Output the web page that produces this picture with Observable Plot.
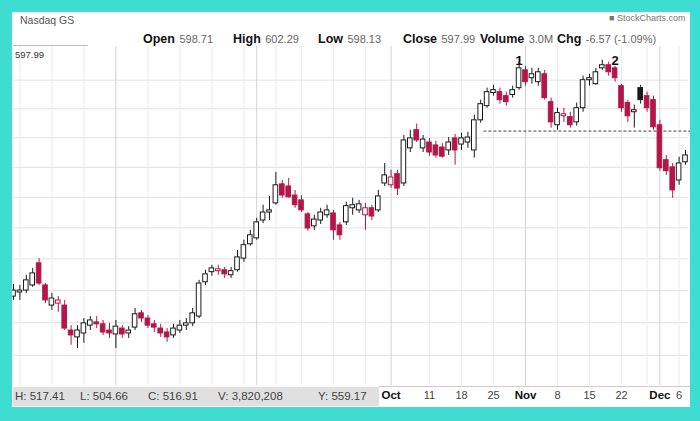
<!DOCTYPE html>
<html><head><meta charset="utf-8">
<script src="https://cdn.jsdelivr.net/npm/d3@7"></script>
<script src="https://cdn.jsdelivr.net/npm/@observablehq/plot@0.6"></script>
<style>
html,body{margin:0;padding:0;width:700px;height:421px;overflow:hidden;background:#fff;font-family:"Liberation Sans",Arial,sans-serif;}
#frame{position:absolute;left:0;top:0;width:700px;height:421px;box-sizing:border-box;border-style:solid;border-color:#3fdcd1;border-width:12px 10px 14px 12px;pointer-events:none;z-index:10;}
#chart{position:absolute;left:0;top:0;z-index:1;}
.t{position:absolute;white-space:nowrap;z-index:5;}
.lab{font-weight:bold;font-size:12.5px;color:#111;}
.val{font-size:11px;color:#666;}
</style>
</head><body>
<div id="chart"></div>
<div class="t" style="left:20px;top:14px;font-size:10.5px;color:#555;">Nasdaq GS</div>
<div class="t" style="left:609px;top:13px;font-size:9px;color:#777;">&#9632; StockCharts.com</div>
<div class="t" style="left:13px;top:45px;width:75px;height:1px;background:#bbb;"></div>
<div class="t" style="left:15px;top:49px;font-size:9.5px;color:#333;">597.99</div>
<div id="hdr"></div>
<div class="t" style="left:13px;top:387px;width:366px;height:19px;background:#e0e0e0;"></div>
<div id="info"></div>
<div class="t" style="left:379px;top:386px;width:311px;height:1px;background:#d8c8cc;"></div>
<div id="frame"></div>
<script>
// Trading days (2010)
const dates = [
"2010-07-09","2010-07-12","2010-07-13","2010-07-14","2010-07-15","2010-07-16","2010-07-19","2010-07-20","2010-07-21","2010-07-22","2010-07-23","2010-07-26","2010-07-27","2010-07-28","2010-07-29","2010-07-30",
"2010-08-02","2010-08-03","2010-08-04","2010-08-05","2010-08-06","2010-08-09","2010-08-10","2010-08-11","2010-08-12","2010-08-13","2010-08-16","2010-08-17","2010-08-18","2010-08-19","2010-08-20","2010-08-23","2010-08-24","2010-08-25","2010-08-26","2010-08-27","2010-08-30","2010-08-31",
"2010-09-01","2010-09-02","2010-09-03","2010-09-07","2010-09-08","2010-09-09","2010-09-10","2010-09-13","2010-09-14","2010-09-15","2010-09-16","2010-09-17","2010-09-20","2010-09-21","2010-09-22","2010-09-23","2010-09-24","2010-09-27","2010-09-28","2010-09-29","2010-09-30",
"2010-10-01","2010-10-04","2010-10-05","2010-10-06","2010-10-07","2010-10-08","2010-10-11","2010-10-12","2010-10-13","2010-10-14","2010-10-15","2010-10-18","2010-10-19","2010-10-20","2010-10-21","2010-10-22","2010-10-25","2010-10-26","2010-10-27","2010-10-28","2010-10-29",
"2010-11-01","2010-11-02","2010-11-03","2010-11-04","2010-11-05","2010-11-08","2010-11-09","2010-11-10","2010-11-11","2010-11-12","2010-11-15","2010-11-16","2010-11-17","2010-11-18","2010-11-19","2010-11-22","2010-11-23","2010-11-24","2010-11-26","2010-11-29","2010-11-30",
"2010-12-01","2010-12-02","2010-12-03","2010-12-06","2010-12-07"];
const open = [558.1,559.4,560.0,561.6,568.6,561.6,555.3,555.9,555.3,547.6,545.5,546.7,549.1,550.1,549.5,547.6,
546.4,548.2,546.7,548.5,552.9,551.3,549.5,548.2,547.0,546.1,547.6,549.1,549.8,551.9,562.6,565.8,566.1,566.4,564.8,566.4,570.1,574.7,
576.6,582.4,585.0,588.0,594.3,593.6,590.6,589.0,584.4,580.5,582.4,584.1,584.7,580.8,581.8,586.4,585.7,584.1,586.4,585.7,594.6,
594.0,597.7,594.6,606.4,612.6,606.4,608.4,607.4,606.7,605.7,609.8,607.7,608.4,605.7,616.0,620.9,625.5,625.8,624.4,624.8,627.2,
633.5,630.7,629.3,632.1,622.3,614.3,617.4,617.1,615.3,620.2,630.0,628.6,634.2,635.3,634.2,627.9,622.0,618.8,627.2,624.4,623.0,
614.3,602.4,600.0,595.6,601.7];
const high = [561.9,561.6,564.8,567.0,570.1,562.2,559.1,558.1,556.9,549.1,549.1,551.3,551.9,551.9,550.7,549.8,
550.7,549.1,548.8,554.4,553.8,552.2,550.7,549.5,548.2,549.5,550.7,551.3,554.4,563.2,566.4,568.0,568.0,567.3,567.3,572.7,576.0,579.2,
583.1,587.4,590.3,598.3,595.6,596.3,592.3,590.6,585.0,584.1,586.4,587.4,585.7,581.8,588.4,589.7,589.0,588.0,587.4,592.3,601.3,
599.0,599.0,610.8,612.6,614.7,610.8,609.8,608.8,608.1,610.1,611.2,611.6,611.9,617.8,623.0,627.2,628.2,627.2,625.8,627.9,636.4,
634.9,634.2,634.2,633.5,623.7,620.2,620.2,618.8,622.0,631.4,632.1,634.2,637.1,636.4,634.9,628.6,623.0,621.3,628.2,625.8,624.4,
616.0,604.0,601.3,603.4,605.7];
const low = [556.9,556.9,559.1,561.0,561.6,555.9,553.8,553.2,547.6,543.1,542.1,543.7,547.6,548.2,546.1,545.2,
542.1,545.2,545.2,547.6,550.1,548.2,547.0,545.5,544.0,545.2,546.7,547.6,548.8,551.3,561.6,564.5,564.8,563.8,563.8,565.8,568.9,574.1,
576.0,581.4,582.4,587.4,589.7,589.7,586.4,585.0,578.9,579.2,581.1,583.1,576.0,576.0,580.8,584.1,584.7,579.2,582.4,585.0,593.6,
593.0,590.6,593.6,605.0,608.4,605.0,603.7,603.1,603.1,604.0,600.7,605.7,606.4,603.1,615.0,620.2,624.4,621.6,620.9,623.7,626.5,
627.9,628.6,627.9,623.0,613.3,612.6,615.3,613.3,614.0,618.8,627.9,628.2,633.5,631.4,629.3,618.8,615.3,613.3,621.6,618.8,612.6,
598.7,597.3,589.7,594.0,600.7];
const close = [560.0,560.0,563.2,565.4,562.2,556.9,557.5,556.9,548.2,546.1,547.6,549.8,550.7,549.5,547.0,546.7,
548.8,546.4,547.6,552.6,551.3,549.1,548.5,546.7,545.5,548.2,549.1,549.8,552.9,562.2,565.1,567.0,566.7,565.1,566.1,570.5,574.4,577.6,
581.8,585.0,585.7,594.0,590.6,590.0,587.4,585.7,579.8,582.7,585.0,585.7,579.2,577.6,587.1,587.4,587.7,586.4,583.7,590.3,597.3,
596.6,592.9,609.1,609.8,609.1,609.4,605.0,604.0,603.6,608.4,605.7,609.8,610.1,616.0,621.6,625.8,626.5,623.0,622.3,626.5,634.2,
629.3,632.1,632.8,623.7,615.3,618.5,618.1,614.3,620.2,630.0,630.7,632.8,635.3,632.8,630.7,620.2,617.4,619.5,623.0,620.2,613.6,
599.7,598.7,592.3,601.3,604.0];

// Axis / annotation values
const gridPrices = [540,550,560,570,580,590,600,610,620,630];
const weekTicks = ["2010-07-12","2010-07-19","2010-07-26","2010-08-09","2010-08-16","2010-08-23","2010-08-30","2010-09-07","2010-09-13","2010-09-20","2010-09-27","2010-10-11","2010-10-18","2010-10-25","2010-11-08","2010-11-15","2010-11-22","2010-11-29","2010-12-06"];
const monthTicks = ["2010-08-02","2010-09-01","2010-10-01","2010-11-01","2010-12-01"];
const monthLabelTicks = ["2010-10-01","2010-11-01","2010-12-01"];
const monthLabels = ["Oct","Nov","Dec"];
const dayTicks = ["2010-10-11","2010-10-18","2010-10-25","2010-11-08","2010-11-15","2010-11-22","2010-12-06"];
const dayLabels = ["11","18","25","8","15","22","6"];
const peakDates = ["2010-10-29","2010-11-19"];
const peakLabels = ["1","2"];
const neckline = [{price: 612.3, start: "2010-10-22", end: "2010-12-07"}];
const headerLabels = ["Open","High","Low","Close","Volume","Chg"];
const headerValues = ["598.71","602.29","598.13","597.99","3.0M","-6.57 (-1.09%)"];
const headerLeft = [143,233,318,403,480,557];
const infoItems = ["H: 517.41","L: 504.66","C: 516.91","V: 3,820,208","Y: 559.17"];
const infoLeft = [15,80,148,218,318];

// header
const hdr = document.getElementById("hdr");
headerLabels.forEach((l,i)=>{
  const s = document.createElement("div");
  s.className="t";
  s.style.left = headerLeft[i]+"px"; s.style.top="29px";
  s.innerHTML = `<span class="lab">${l}</span> <span class="val">${headerValues[i]}</span>`;
  hdr.appendChild(s);
});
const info = document.getElementById("info");
infoItems.forEach((t,i)=>{
  const s = document.createElement("div");
  s.className="t";
  s.style.left = infoLeft[i]+"px"; s.style.top="390px";
  s.style.fontSize="11.5px"; s.style.color="#444";
  s.textContent = t;
  info.appendChild(s);
});

const rows = dates.map((d,i)=>({date:d,o:open[i],h:high[i],l:low[i],c:close[i],prev:i?close[i-1]:open[i]}));
const red = "#b3174a", blk = "#1a1a1a";
const col = d => d.c >= d.prev ? blk : red;

const chart = Plot.plot({
  width:700, height:421,
  marginLeft:9.8, marginRight:11.8, marginTop:46, marginBottom:36,
  style:{background:"transparent", overflow:"visible", fontFamily:"Liberation Sans, Arial, sans-serif"},
  x:{type:"band", domain:dates, padding:0, axis:null},
  y:{type:"log", domain:[531,642], axis:null},
  color:{type:"identity"},
  marks:[
    Plot.ruleY(gridPrices,{stroke:"#e2e2e2"}),
    Plot.ruleX(weekTicks,{stroke:"#ebebeb"}),
    Plot.ruleX(monthTicks,{stroke:"#d2d2d2"}),
    Plot.ruleY(neckline,{y:"price", x1:"start", x2:"end", stroke:"#444", strokeDasharray:"3,2", insetRight:-12}),
    Plot.ruleX(rows,{x:"date", y1:"l", y2:"h", stroke:col, strokeWidth:1}),
    Plot.barY(rows,{x:"date", y1:"o", y2:"c", fill:d=>d.c>d.o?"#fff":col(d), stroke:col, strokeWidth:1, insetLeft:0.9, insetRight:0.9}),
    Plot.text(peakLabels,{x:peakDates, text:d=>d, frameAnchor:"top", dy:9, fontSize:13, fontWeight:"bold", fill:"#111"}),
    Plot.text(monthLabels,{x:monthLabelTicks, text:d=>d, frameAnchor:"bottom", dy:13, fontSize:11.5, fontWeight:"bold", fill:"#111"}),
    Plot.text(dayLabels,{x:dayTicks, text:d=>d, frameAnchor:"bottom", dy:13, fontSize:11, fill:"#444"})
  ]
});
document.getElementById("chart").appendChild(chart);
</script>
</body></html>
